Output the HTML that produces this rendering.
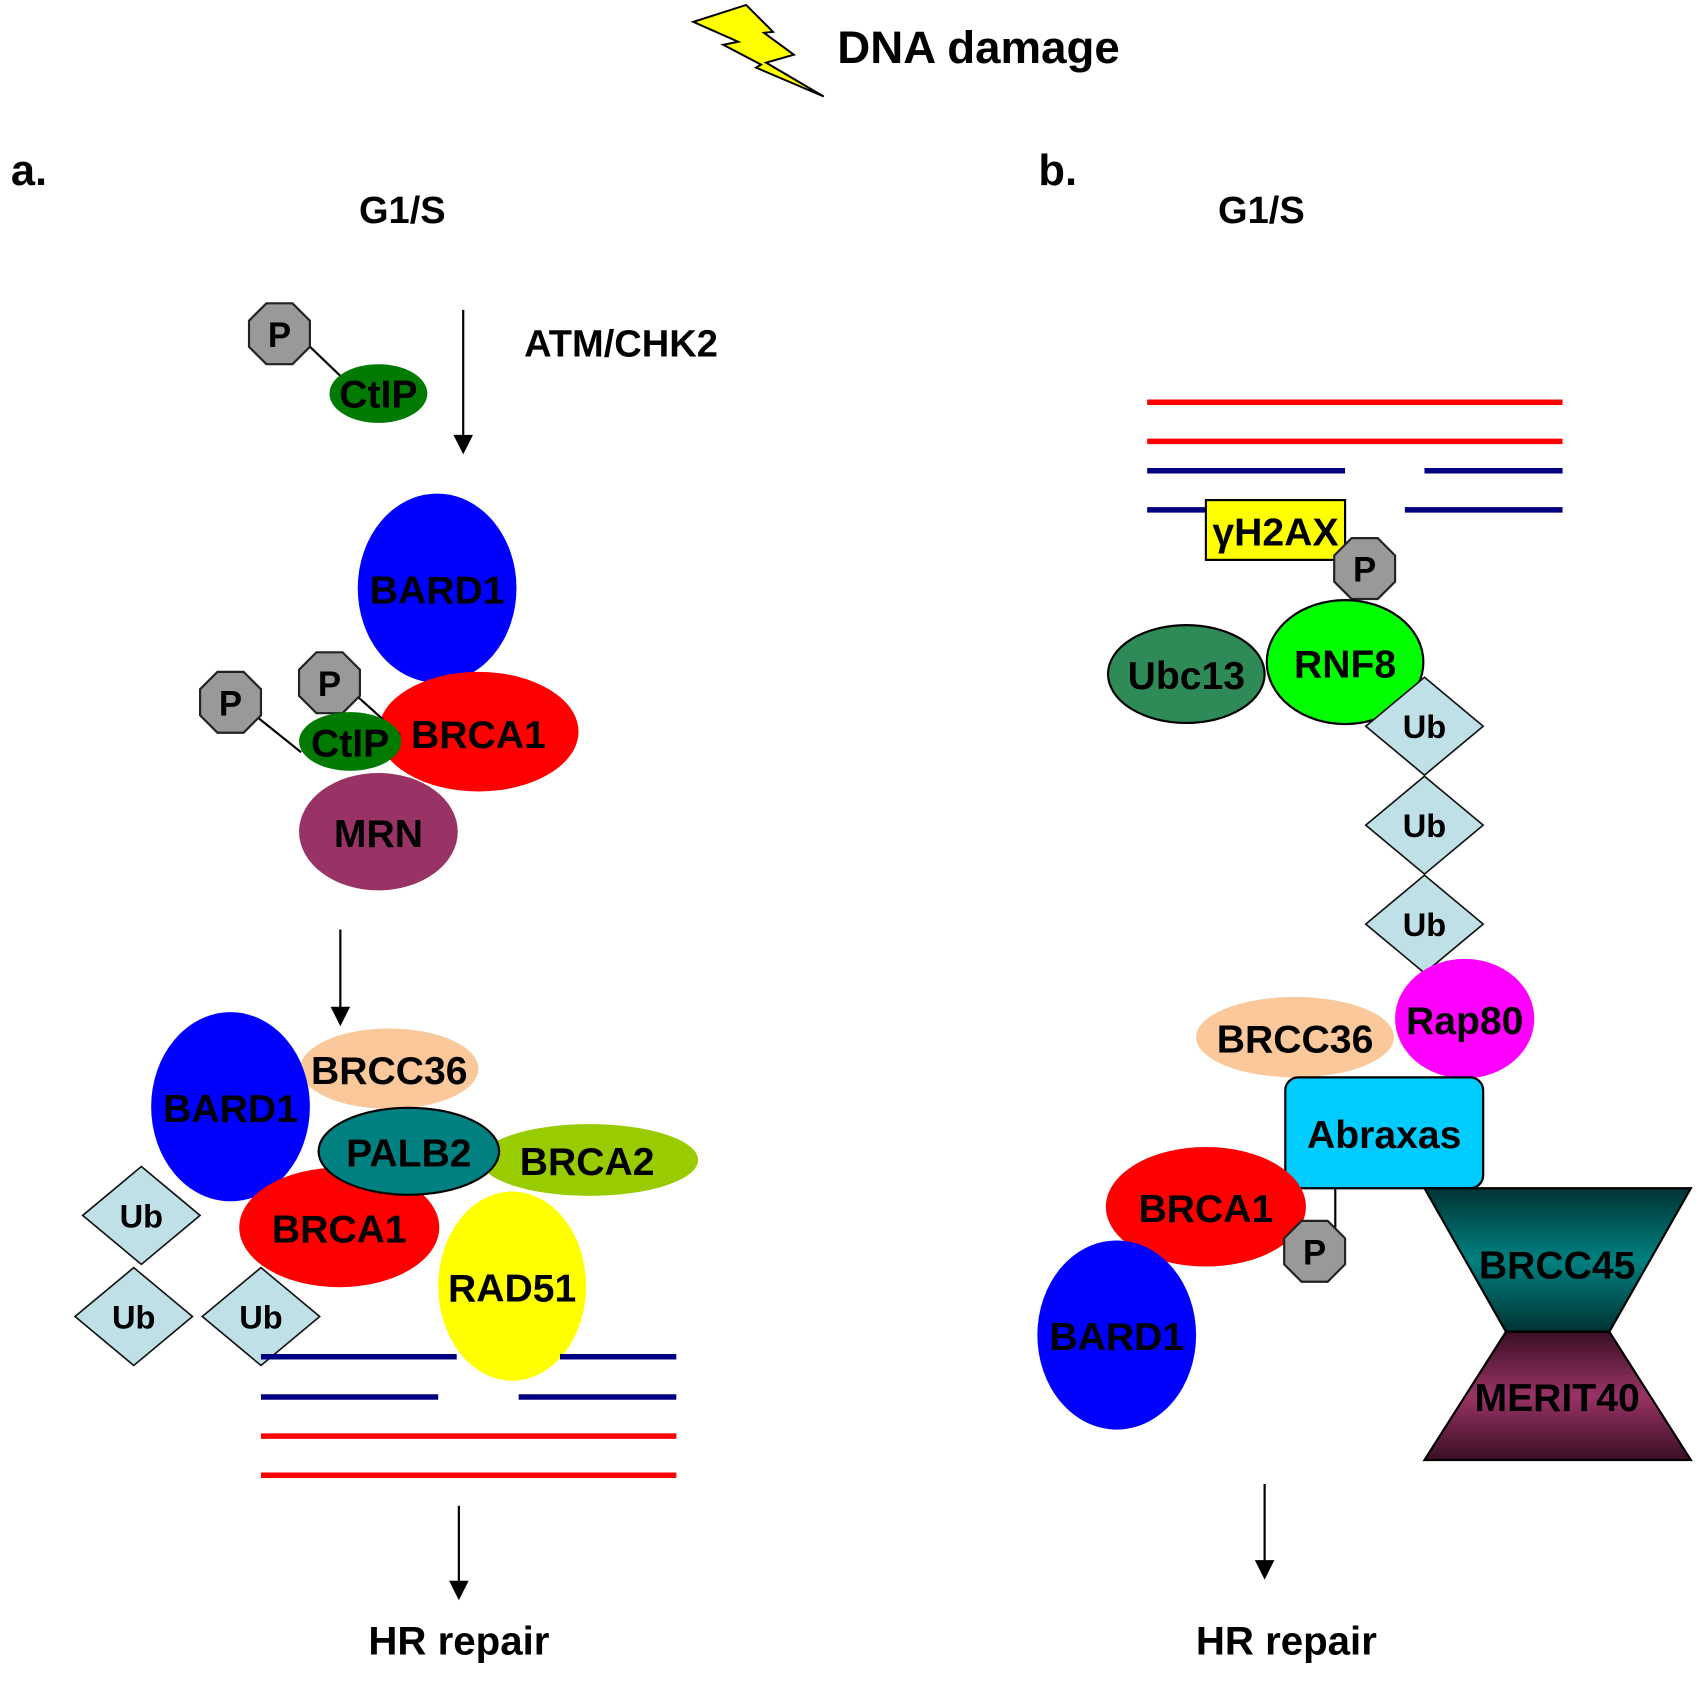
<!DOCTYPE html>
<html><head><meta charset="utf-8"><style>html,body{margin:0;padding:0;background:#fff}svg{display:block}</style></head>
<body>
<svg width="1705" height="1684" viewBox="0 0 1568 1549" preserveAspectRatio="none" xmlns="http://www.w3.org/2000/svg" font-family="Liberation Sans, Arial, sans-serif" font-weight="bold">
<defs>
<linearGradient id="g1" x1="0" y1="0" x2="0" y2="1"><stop offset="0" stop-color="#003333"/><stop offset="0.5" stop-color="#008080"/><stop offset="1" stop-color="#003333"/></linearGradient>
<linearGradient id="g2" x1="0" y1="0" x2="0" y2="1"><stop offset="0" stop-color="#3a0f24"/><stop offset="0.5" stop-color="#993366"/><stop offset="1" stop-color="#3a0f24"/></linearGradient>
<g id="oct"><polygon points="-12,-28 12,-28 28,-12 28,12 12,28 -12,28 -28,12 -28,-12" fill="#999" stroke="#222" stroke-width="2"/><text x="0" y="12" font-size="32" text-anchor="middle">P</text></g>
<g id="ub"><polygon points="0,-45 54,0 0,45 -54,0" fill="#bfe0e6" stroke="#111" stroke-width="1.5"/><text x="0" y="11" font-size="30" text-anchor="middle">Ub</text></g>
<polygon id="ah" points="-9,-18 9,-18 0,0" fill="#000"/>
</defs>
<g transform="scale(0.9149)">
<polygon points="697,22 750,5 777,32 768,33 798,55 770,63 828,97 760,68 765,65 727,45 742,42" fill="#ffff00" stroke="#000" stroke-width="2"/>
</g>
<text x="770" y="58" font-size="42">DNA damage</text>
<text x="10" y="170" font-size="40">a.</text>
<text x="955" y="170" font-size="40">b.</text>
<text x="370" y="205" font-size="35" text-anchor="middle">G1/S</text>
<text x="1160" y="205" font-size="35" text-anchor="middle">G1/S</text>

<line x1="284" y1="318" x2="330" y2="362" stroke="#000" stroke-width="2"/>
<use href="#oct" x="257" y="307"/>
<ellipse cx="348" cy="362" rx="45" ry="27" fill="#007a00"/>
<text x="348" y="375" font-size="36" text-anchor="middle">CtIP</text>
<line x1="426" y1="285" x2="426" y2="402" stroke="#000" stroke-width="2"/>
<use href="#ah" x="426" y="418"/>
<text x="482" y="328" font-size="35">ATM/CHK2</text>

<ellipse cx="402" cy="541" rx="73" ry="87" fill="#0000ff"/>
<text x="402" y="555" font-size="36" text-anchor="middle">BARD1</text>
<ellipse cx="440" cy="673" rx="92" ry="55" fill="#ff0000"/>
<text x="440" y="688" font-size="36" text-anchor="middle">BRCA1</text>
<line x1="328" y1="640" x2="368" y2="676" stroke="#000" stroke-width="2"/>
<use href="#oct" x="303" y="628"/>
<line x1="237" y1="660" x2="277" y2="692" stroke="#000" stroke-width="2"/>
<use href="#oct" x="212" y="646"/>
<ellipse cx="322" cy="682" rx="47" ry="27" fill="#007a00"/>
<text x="322" y="696" font-size="36" text-anchor="middle">CtIP</text>
<ellipse cx="348" cy="765" rx="73" ry="54" fill="#993366"/>
<text x="348" y="779" font-size="36" text-anchor="middle">MRN</text>
<line x1="313" y1="855" x2="313" y2="928" stroke="#000" stroke-width="2"/>
<use href="#ah" x="313" y="944"/>

<ellipse cx="358" cy="983" rx="82" ry="37" fill="#fbc89b"/>
<ellipse cx="212" cy="1018" rx="73" ry="87" fill="#0000ff"/>
<text x="358" y="997" font-size="36" text-anchor="middle">BRCC36</text>
<text x="212" y="1032" font-size="36" text-anchor="middle">BARD1</text>
<ellipse cx="542" cy="1067" rx="100" ry="33" fill="#99cc00"/>
<text x="540" y="1081" font-size="36" text-anchor="middle">BRCA2</text>
<ellipse cx="312" cy="1129" rx="92" ry="55" fill="#ff0000"/>
<text x="312" y="1143" font-size="36" text-anchor="middle">BRCA1</text>
<ellipse cx="376" cy="1059" rx="83" ry="40" fill="#008080" stroke="#000" stroke-width="2"/>
<text x="376" y="1073" font-size="36" text-anchor="middle">PALB2</text>
<ellipse cx="471" cy="1183" rx="68" ry="87" fill="#ffff00"/>
<text x="471" y="1197" font-size="36" text-anchor="middle">RAD51</text>
<use href="#ub" x="130" y="1118"/>
<use href="#ub" x="123" y="1211"/>
<use href="#ub" x="240" y="1211"/>
<g stroke-width="5">
<line x1="240" y1="1248" x2="420" y2="1248" stroke="#000080"/>
<line x1="515" y1="1248" x2="622" y2="1248" stroke="#000080"/>
<line x1="240" y1="1285" x2="403" y2="1285" stroke="#000080"/>
<line x1="477" y1="1285" x2="622" y2="1285" stroke="#000080"/>
<line x1="240" y1="1321" x2="622" y2="1321" stroke="#ff0000"/>
<line x1="240" y1="1357" x2="622" y2="1357" stroke="#ff0000"/>
</g>
<line x1="422" y1="1385" x2="422" y2="1456" stroke="#000" stroke-width="2"/>
<use href="#ah" x="422" y="1472"/>
<text x="422" y="1522" font-size="37" text-anchor="middle">HR repair</text>

<g stroke-width="5">
<line x1="1055" y1="370" x2="1437" y2="370" stroke="#ff0000"/>
<line x1="1055" y1="406" x2="1437" y2="406" stroke="#ff0000"/>
<line x1="1055" y1="433" x2="1237" y2="433" stroke="#000080"/>
<line x1="1310" y1="433" x2="1437" y2="433" stroke="#000080"/>
<line x1="1055" y1="469" x2="1110" y2="469" stroke="#000080"/>
<line x1="1292" y1="469" x2="1437" y2="469" stroke="#000080"/>
</g>
<rect x="1109" y="460" width="128" height="55" fill="#ffff00" stroke="#000" stroke-width="2"/>
<text x="1173" y="502" font-size="36" text-anchor="middle">γH2AX</text>
<use href="#oct" x="1255" y="523"/>
<ellipse cx="1091" cy="620" rx="72" ry="45" fill="#2e8b57" stroke="#000" stroke-width="2"/>
<text x="1091" y="634" font-size="36" text-anchor="middle">Ubc13</text>
<ellipse cx="1237" cy="609" rx="72" ry="57" fill="#00ff00" stroke="#000" stroke-width="2"/>
<text x="1237" y="623" font-size="36" text-anchor="middle">RNF8</text>
<use href="#ub" x="1310" y="668"/>
<use href="#ub" x="1310" y="759"/>
<use href="#ub" x="1310" y="850"/>
<ellipse cx="1191" cy="954" rx="91" ry="37" fill="#fbc89b"/>
<text x="1191" y="968" font-size="36" text-anchor="middle">BRCC36</text>
<ellipse cx="1347" cy="937" rx="64" ry="55" fill="#ff00ff"/>
<text x="1347" y="951" font-size="36" text-anchor="middle">Rap80</text>
<rect x="1182" y="991" width="182" height="102" rx="12" fill="#00ccff" stroke="#000" stroke-width="2"/>
<text x="1273" y="1056" font-size="36" text-anchor="middle">Abraxas</text>
<ellipse cx="1109" cy="1110" rx="92" ry="55" fill="#ff0000"/>
<text x="1109" y="1124" font-size="36" text-anchor="middle">BRCA1</text>
<line x1="1228" y1="1093" x2="1228" y2="1142" stroke="#000" stroke-width="2"/>
<use href="#oct" x="1209" y="1151"/>
<ellipse cx="1027" cy="1228" rx="73" ry="87" fill="#0000ff"/>
<text x="1027" y="1242" font-size="36" text-anchor="middle">BARD1</text>
<polygon points="1310,1093 1555,1093 1480,1225 1385,1225" fill="url(#g1)" stroke="#000" stroke-width="2"/>
<polygon points="1385,1225 1480,1225 1555,1343 1310,1343" fill="url(#g2)" stroke="#000" stroke-width="2"/>
<text x="1432" y="1176" font-size="36" text-anchor="middle">BRCC45</text>
<text x="1432" y="1298" font-size="36" text-anchor="middle">MERIT40</text>
<line x1="1163" y1="1365" x2="1163" y2="1437" stroke="#000" stroke-width="2"/>
<use href="#ah" x="1163" y="1453"/>
<text x="1183" y="1522" font-size="37" text-anchor="middle">HR repair</text>
</svg>
</body></html>
